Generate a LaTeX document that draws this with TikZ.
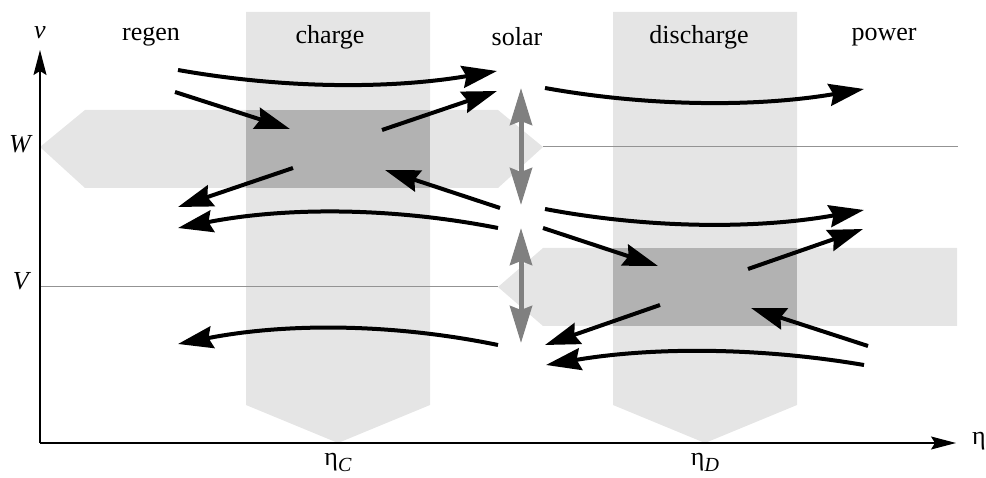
\documentclass[tikz,border=0pt]{standalone}
\usepackage{fontspec}
\setmainfont{Liberation Serif}
\usetikzlibrary{arrows.meta}
\newcommand{\subeta}[1]{η\raisebox{-6pt}{\fontsize{20}{20}\selectfont\textit{#1}}}
\begin{document}
\begin{tikzpicture}[x=1pt,y=-1pt,
  lbl/.style={font=\fontsize{26}{30}\selectfont},
  axis/.style={line width=1.3pt,-{Stealth[length=25pt,width=13pt,inset=4pt]}},
  flow/.style={line width=4pt,-{Stealth[length=35pt,width=22pt,inset=4pt]}},
  swing/.style={line width=5pt,gray,{Stealth[length=37pt,width=22pt,inset=4pt]}-{Stealth[length=37pt,width=22pt,inset=4pt]}},
  level/.style={line width=1pt,gray!85}]
 \useasboundingbox (0,0) rectangle (986,478);
 % columns
 \fill[gray!20] (246,12) -- (430,12) -- (430,405) -- (338,443) -- (246,405) -- cycle;
 \fill[gray!20] (613,12) -- (797,12) -- (797,405) -- (705,443) -- (613,405) -- cycle;
 % bands
 \fill[gray!20] (85,110) -- (498,110) -- (543,147) -- (498,188) -- (85,188) -- (40,147) -- cycle;
 \fill[gray!20] (498,287) -- (543,248) -- (957,248) -- (957,326) -- (543,326) -- cycle;
 \fill[gray!60] (246,110) rectangle (430,188);
 \fill[gray!60] (613,248) rectangle (797,326);
 \draw[level] (543,147) -- (958,147);
 \draw[level] (40,287) -- (498,287);
 % axes
 \coordinate (o) at (40,443);
 \coordinate (vtop) at (40,50);
 \coordinate (etop) at (956,443);
 \draw[axis] (o) -- (vtop);
 \draw[axis] (o) -- (etop);
 \node[lbl] (v) at (40,33) {\textit{v}};
 \node[lbl] (eta) at (979,441) {η};
 \node[lbl] (W) at (21,144) {\textit{W}};
 \node[lbl] (V) at (22,281) {\textit{V}};
 \node[lbl] (etaC) at (338,462) {\subeta{C}};
 \node[lbl] (etaD) at (705,462) {\subeta{D}};
 \node[lbl] (regen) at (151,37) {regen};
 \node[lbl] (charge) at (330,37) {charge};
 \node[lbl] (solar) at (517,37) {solar};
 \node[lbl] (discharge) at (699,37) {discharge};
 \node[lbl] (power) at (884,37) {power};
 % end points of the flows
 \coordinate (r1) at (178,70);  \coordinate (s1) at (497,71);
 \coordinate (r2) at (175,92);  \coordinate (c1) at (290,129);
 \coordinate (c2) at (382,130); \coordinate (s2) at (497,91);
 \coordinate (c3) at (293,168); \coordinate (r3) at (178,207);
 \coordinate (s3) at (498,228); \coordinate (r4) at (178,228);
 \coordinate (s4) at (500,208); \coordinate (c4) at (385,170);
 \coordinate (s5) at (498,345); \coordinate (r5) at (178,344);
 \coordinate (o1) at (545,88);  \coordinate (p1) at (864,89);
 \coordinate (o2) at (545,209); \coordinate (p2) at (864,210);
 \coordinate (o3) at (543,228); \coordinate (d1) at (658,266);
 \coordinate (d2) at (748,269); \coordinate (p3) at (863,229);
 \coordinate (p4) at (868,346); \coordinate (d3) at (751,308);
 \coordinate (d4) at (660,305); \coordinate (o4) at (545,345);
 \coordinate (p5) at (864,365); \coordinate (o5) at (546,365);
 \coordinate (w1) at (521,88);  \coordinate (w2) at (521,205);
 \coordinate (u1) at (521,228); \coordinate (u2) at (521,343);
 % charge side
 \draw[flow] (r1) .. controls (285,89) and (391,89) .. (s1);
 \draw[flow] (r2) -- (c1);
 \draw[flow] (c2) -- (s2);
 \draw[flow] (c3) -- (r3);
 \draw[flow] (s3) .. controls (391,207) and (285,207) .. (r4);
 \draw[flow] (s4) -- (c4);
 \draw[flow] (s5) .. controls (391,323) and (285,323) .. (r5);
 % discharge side
 \draw[flow] (o1) .. controls (651,107) and (758,107) .. (p1);
 \draw[flow] (o2) .. controls (651,229) and (758,229) .. (p2);
 \draw[flow] (o3) -- (d1);
 \draw[flow] (d2) -- (p3);
 \draw[flow] (p4) -- (d3);
 \draw[flow] (d4) -- (o4);
 \draw[flow] (p5) .. controls (758,347) and (652,347) .. (o5);
 % solar swing
 \draw[swing] (w1) -- (w2);
 \draw[swing] (u1) -- (u2);
\end{tikzpicture}
\end{document}
